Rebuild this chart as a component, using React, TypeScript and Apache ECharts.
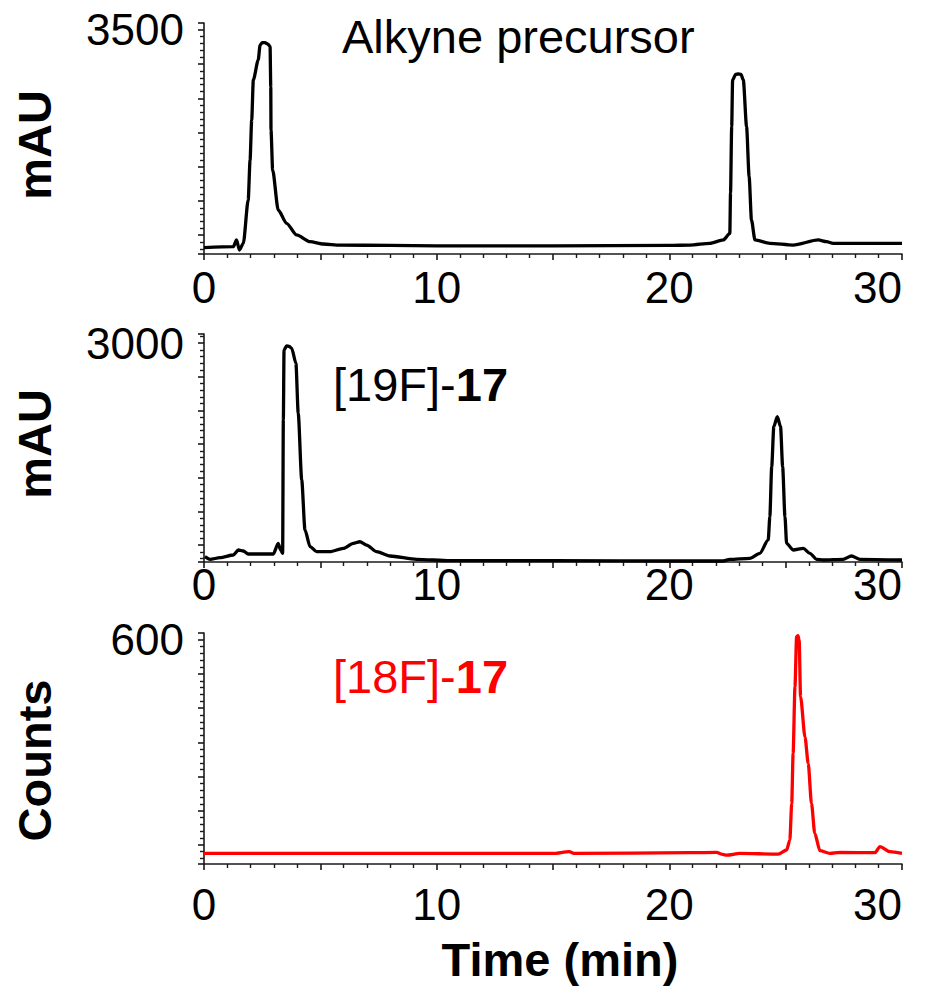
import React, { useEffect, useRef } from 'react';
import * as echarts from 'echarts';

const FONT = '"Liberation Sans", Arial, Helvetica, sans-serif';

// Tick labels shown on the axes
const timeTickLabels = ['0', '10', '20', '30'];
const alkyneTickLabel = '3500';
const f19TickLabel = '3000';
const f18TickLabel = '600';

// Panel titles
const alkyneTitle = 'Alkyne precursor';
const f19Title = '[19F]-';
const f18Title = '[18F]-';
const compoundNo = '17';

// Axis titles
const uvAxisName = 'mAU';
const radioAxisName = 'Counts';
const timeAxisName = 'Time (min)';

// UV trace of the alkyne precursor: [time (min), absorbance (mAU)]
const alkyneTrace: number[][] = [
  [0, 317], [1.26, 332], [1.4, 430], [1.52, 283], [1.69, 381], [1.9, 1014], [1.98, 1598],
  [2.05, 2183], [2.12, 2767], [2.33, 3059], [2.41, 3278], [2.5, 3312], [2.62, 3312],
  [2.75, 3290], [2.84, 3254], [2.87, 2669], [2.88, 2037], [2.95, 1452], [3.19, 868],
  [3.55, 673], [3.98, 503], [4.56, 405], [5.13, 371], [5.84, 356], [8, 350], [10, 345],
  [15, 345], [20, 350], [20.89, 356], [21.74, 381], [22.32, 430], [22.6, 527], [22.63, 1116],
  [22.68, 2085], [22.72, 2767], [22.85, 2850], [22.96, 2855], [23.08, 2850], [23.18, 2767],
  [23.32, 2085], [23.43, 1354], [23.53, 722], [23.68, 430], [24.32, 381], [25.32, 356],
  [26.4, 430], [26.76, 405], [27.04, 381], [30, 381],
];

// UV trace of [19F]-17: [time (min), absorbance (mAU)]
const f19Trace: number[][] = [
  [0.04, -171], [0.26, -210], [0.69, -186], [1.26, -146], [1.48, -72], [1.69, -87], [1.9, -131],
  [2.98, -131], [3.19, 28], [3.29, -72], [3.38, -121], [3.41, 1859], [3.44, 2898], [3.55, 2958],
  [3.66, 2950], [3.77, 2923], [3.95, 2701], [4.05, 1958], [4.2, 968], [4.34, 225], [4.56, -23],
  [4.84, -97], [5.41, -97], [5.99, -47], [6.42, 28], [6.7, 51], [6.99, 2], [7.42, -97],
  [7.99, -161], [9.14, -210], [10.57, -231], [15, -231], [20.89, -235], [22.32, -235],
  [22.6, -210], [23.46, -195], [23.89, -121], [24.25, 77], [24.32, 423], [24.4, 1165],
  [24.49, 1759], [24.64, 1908], [24.78, 1759], [24.87, 1165], [24.97, 423], [25.04, 28],
  [25.32, -72], [25.76, -47], [26.04, -121], [26.33, -210], [26.61, -220], [27.47, -210],
  [27.83, -161], [28.19, -210], [30, -220],
];

// Radio trace of [18F]-17: [time (min), counts]
const f18Trace: number[][] = [
  [0, -25], [5, -25], [10, -25], [15, -25], [15.7, -20], [15.9, -25], [20.89, -23],
  [22.03, -22], [22.3, -28], [22.46, -30], [23.03, -25], [24.68, -27], [25.04, -15],
  [25.18, 14], [25.26, 121], [25.32, 267], [25.4, 463], [25.47, 609], [25.53, 612],
  [25.58, 599], [25.64, 434], [25.83, 316], [25.97, 238], [26.11, 121], [26.25, 34],
  [26.47, -17], [26.9, -25], [27.33, -22], [28.84, -23], [29.05, -5], [29.48, -20], [30, -25],
];

const AXIS_COLOR = '#1a1a1a';

function makeXAxis(gridIndex: number, labelMargin: number, withName: boolean) {
  return {
    type: 'value',
    gridIndex,
    min: 0,
    max: 30,
    interval: 5,
    name: withName ? timeAxisName : '',
    nameLocation: 'middle',
    nameGap: 72,
    nameTextStyle: {
      fontSize: 47,
      fontWeight: 'bold',
      fontFamily: FONT,
      color: '#000',
      padding: [0, 0, 0, 14],
    },
    axisLine: { show: true, onZero: false, lineStyle: { color: AXIS_COLOR, width: 1.6 } },
    axisTick: { show: true, length: 6, lineStyle: { color: AXIS_COLOR, width: 1.6 } },
    minorTick: { show: true, splitNumber: 5, length: 4, lineStyle: { color: AXIS_COLOR, width: 1.4 } },
    splitLine: { show: false },
    axisLabel: {
      formatter: (v: number) => (timeTickLabels.includes(String(v)) ? String(v) : ''),
      fontSize: 44,
      fontFamily: FONT,
      color: '#000',
      margin: labelMargin,
      alignMaxLabel: 'right',
      showMinLabel: true,
      showMaxLabel: true,
    },
  };
}

function makeYAxis(
  gridIndex: number,
  min: number,
  max: number,
  step: number,
  label: string,
  labelPad: number[],
  name: string,
  namePad: number[],
) {
  return {
    type: 'value',
    gridIndex,
    min,
    max,
    splitNumber: 7,
    minInterval: step,
    maxInterval: step,
    name,
    nameLocation: 'middle',
    nameRotate: 90,
    nameGap: 146,
    nameTextStyle: {
      fontSize: 47,
      fontWeight: 'bold',
      fontFamily: FONT,
      color: '#000',
      padding: namePad,
    },
    axisLine: { show: true, onZero: false, lineStyle: { color: AXIS_COLOR, width: 1.6 } },
    axisTick: { show: true, length: 6, lineStyle: { color: AXIS_COLOR, width: 1.6 } },
    minorTick: { show: true, splitNumber: 5, length: 4, lineStyle: { color: AXIS_COLOR, width: 1.4 } },
    splitLine: { show: false },
    axisLabel: {
      formatter: (v: number) => (String(v) === label ? label : ''),
      fontSize: 44,
      fontFamily: FONT,
      color: '#000',
      margin: 20,
      padding: labelPad,
    },
  };
}

function makeSeries(idx: number, data: number[][], color: string) {
  return {
    type: 'line',
    xAxisIndex: idx,
    yAxisIndex: idx,
    data,
    showSymbol: false,
    symbol: 'none',
    smooth: 0.25,
    smoothMonotone: 'x',
    lineStyle: { color, width: 3.3 },
    itemStyle: { color },
    silent: true,
  };
}

export default function App() {
  const ref = useRef<HTMLDivElement>(null);

  useEffect(() => {
    if (!ref.current) return;
    const chart = echarts.init(ref.current, null, { renderer: 'svg', width: 933, height: 993 });
    const option = {
      animation: false,
      backgroundColor: '#fff',
      grid: [
        { left: 204, right: 31, top: 23, height: 231 },
        { left: 204, right: 31, top: 334, height: 228 },
        { left: 204, right: 31, top: 633, height: 231 },
      ],
      xAxis: [makeXAxis(0, 11, false), makeXAxis(1, 0, false), makeXAxis(2, 18, true)],
      yAxis: [
        makeYAxis(0, 225, 3600, 500, alkyneTickLabel, [14, 0, 0, 0], uvAxisName, [0, 13, 0, 0]),
        makeYAxis(1, -250, 3135, 500, f19TickLabel, [0, 0, 0, 0], uvAxisName, [0, 0, 0, 8]),
        makeYAxis(2, -56, 620, 100, f18TickLabel, [22, 0, 0, 0], radioAxisName, [0, 24, 0, 0]),
      ],
      series: [
        makeSeries(0, alkyneTrace, '#000'),
        makeSeries(1, f19Trace, '#000'),
        makeSeries(2, f18Trace, '#ff0000'),
      ],
      graphic: [
        {
          type: 'text',
          x: 342,
          y: 36,
          silent: true,
          style: {
            text: alkyneTitle,
            fontSize: 47,
            fontFamily: FONT,
            fill: '#000',
            align: 'left',
            verticalAlign: 'middle',
          },
        },
        {
          type: 'text',
          x: 333,
          y: 384,
          silent: true,
          style: {
            text: `{n|${f19Title}}{b|${compoundNo}}`,
            fontSize: 47,
            fontFamily: FONT,
            fill: '#000',
            align: 'left',
            verticalAlign: 'middle',
            rich: {
              n: { fontSize: 47, fontFamily: FONT, fill: '#000' },
              b: { fontSize: 47, fontFamily: FONT, fontWeight: 'bold', fill: '#000' },
            },
          },
        },
        {
          type: 'text',
          x: 333,
          y: 676,
          silent: true,
          style: {
            text: `{n|${f18Title}}{b|${compoundNo}}`,
            fontSize: 47,
            fontFamily: FONT,
            fill: '#ff0000',
            align: 'left',
            verticalAlign: 'middle',
            rich: {
              n: { fontSize: 47, fontFamily: FONT, fill: '#ff0000' },
              b: { fontSize: 47, fontFamily: FONT, fontWeight: 'bold', fill: '#ff0000' },
            },
          },
        },
      ],
    };
    chart.setOption(option as any);
    return () => chart.dispose();
  }, []);

  return (
    <div
      ref={ref}
      style={{ position: 'fixed', left: 0, top: 0, width: 933, height: 993, background: '#fff' }}
    />
  );
}
